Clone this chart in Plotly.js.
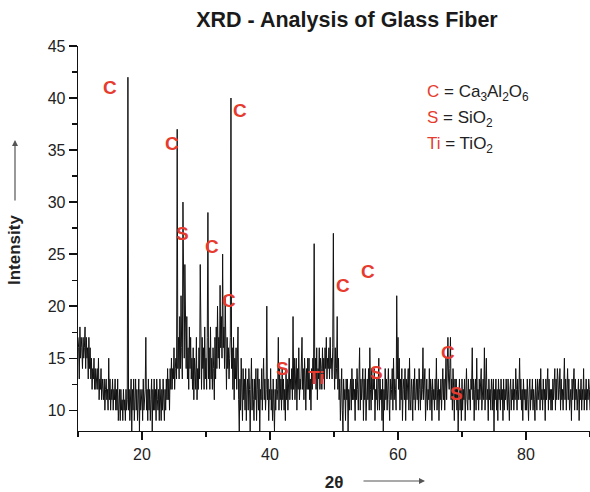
<!DOCTYPE html>
<html>
<head>
<meta charset="utf-8">
<script src="https://cdn.plot.ly/plotly-3.0.1.min.js"></script>
<style>
  html, body { margin: 0; padding: 0; background: #fff; }
  #chart { width: 590px; height: 492px; }
</style>
</head>
<body>
<div id="chart"></div>
<script>
// Scan grid (2θ, degrees)
const twoThetaStart = 10;
const twoThetaStep = 0.1;

const seg10to20 = [17,16,13,18,15,17,16,14,17,15, 16,18,14,17,15,16,13,17,14,16,
                   13,15,12,14,13,15,12,14,12,13, 14,12,15,11,13,12,14,11,13,12,
                   11,13,10,12,13,11,12,10,15,11, 13,10,12,11,13,10,12,11,13,10,
                   12,10,13,9,11,12,9,12,10,11,   9,12,10,11,9,12,10,11,42,10,
                   12,9,11,13,8,12,10,13,9,11,    13,10,12,9,11,13,8,12,10,11];
const seg20to30 = [12,9,13,10,11,12,17,10,12,9,   13,10,12,9,11,13,8,12,10,13,
                   10,12,9,13,11,10,12,9,13,11,   9,12,10,13,11,9,12,10,13,11,
                   14,11,13,10,14,12,15,12,14,13, 16,12,14,15,13,37,14,17,13,19,
                   14,21,16,13,30,21,15,24,17,14, 19,13,16,12,18,14,17,13,15,12,
                   16,11,15,13,12,17,11,14,12,16, 13,24,15,12,17,14,16,12,18,13];
const seg30to40 = [15,12,17,29,13,16,12,18,13,15, 12,16,14,11,17,13,18,14,20,15,
                   17,14,22,16,19,15,25,16,18,14, 21,15,12,17,14,16,13,15,17,40,
                   14,16,12,17,11,15,13,16,12,14, 18,11,8,13,10,15,12,9,14,11,
                   13,10,14,9,12,13,10,14,12,8,   12,15,10,13,11,9,13,11,14,9,
                   12,14,10,13,8,12,11,14,10,13,  15,11,13,10,12,20,11,13,9,12];
const seg40to50 = [11,14,10,12,9,13,11,8,12,10,   13,11,12,17,10,14,11,13,10,14,
                   11,13,10,12,9,14,11,13,10,12,  15,11,13,12,14,11,19,12,15,11,
                   13,15,10,14,12,16,11,13,12,15, 17,12,14,11,15,13,10,14,12,15,
                   12,15,11,13,10,14,12,15,13,26, 13,15,12,16,11,14,13,16,12,15,
                   14,12,16,13,15,12,16,14,17,13, 15,14,16,13,17,14,15,13,16,27];
const seg50to60 = [15,12,16,13,14,19,12,15,11,13, 9,12,14,10,8,13,11,12,9,13,
                   11,13,8,12,10,12,13,10,14,11,  13,11,12,9,13,11,14,12,10,13,
                   16,10,13,11,12,14,9,13,11,14,  9,12,13,11,14,10,16,12,10,14,
                   11,13,12,14,9,12,11,13,10,12,  15,10,13,11,12,9,13,8,12,10,
                   14,11,13,10,12,14,11,9,13,11,  12,14,10,15,11,13,12,10,21,13];
const seg60to70 = [17,12,15,10,13,11,14,9,12,13,  11,14,9,13,11,12,14,10,15,11,
                   10,13,12,9,13,11,14,10,12,13,  11,13,10,14,12,10,13,11,12,16,
                   11,13,14,9,12,13,10,12,11,14,  10,13,12,9,13,11,12,10,13,11,
                   15,10,12,13,9,12,11,13,10,12,  14,11,13,10,12,15,11,13,17,13,
                   12,14,17,11,13,10,14,12,9,13,  11,13,10,12,8,11,13,10,12,9];
const seg70to80 = [13,10,12,11,13,9,12,14,11,10,  13,11,12,10,13,12,16,11,13,9,
                   12,13,10,15,11,12,10,13,11,12, 14,10,12,13,11,16,10,13,15,11,
                   12,9,13,11,12,10,13,12,10,13,  8,12,11,13,10,12,9,13,11,12,
                   10,13,11,12,9,13,10,12,11,13,  12,10,13,11,9,12,13,10,12,11,
                   13,10,12,11,14,12,10,13,11,12, 15,11,13,10,12,9,13,11,12,10];
const seg80to90 = [12,10,13,11,9,12,13,10,12,11,  13,10,12,11,9,13,12,10,13,11,
                   12,13,10,14,11,12,10,13,11,12, 9,13,11,12,14,10,13,11,12,10,
                   12,10,13,11,12,14,10,13,11,14, 13,11,12,14,10,13,11,12,10,13,
                   15,11,13,10,12,14,11,13,10,12, 12,9,13,11,12,14,10,13,11,12,
                   10,12,13,9,12,11,13,10,12,11,  14,10,12,11,13,10,12,11,13,12,
                   10];

const intensity = [].concat(seg10to20, seg20to30, seg30to40, seg40to50,
                            seg50to60, seg60to70, seg70to80, seg80to90);
const twoTheta = intensity.map((_, i) => +(twoThetaStart + i * twoThetaStep).toFixed(2));

// Phase labels placed on the pattern
const phaseText = ['C','C','C','S','C','C','S','Ti','C','C','S','C','S'];
const phaseX    = [15.0,24.7,35.3,26.3,30.9,33.6,41.9,47.3,51.4,55.3,56.6,67.8,69.1];
const phaseY    = [41.0,35.6,38.8,27.0,25.7,20.5,14.0,13.1,22.0,23.3,13.6,15.5,11.6];

// Key lines
const keyLetters = ['C','S','Ti'];
const keyFormulas = ['Ca<sub>3</sub>Al<sub>2</sub>O<sub>6</sub>','SiO<sub>2</sub>','TiO<sub>2</sub>'];

const RED = '#e63b2e';
const FONT = 'Liberation Sans, Arial, Helvetica, sans-serif';

const W = 590, H = 492, L = 78, R = 0, T = 46, B = 61;
const pw = W - L - R, ph = H - T - B;
const px = v => (v - L) / pw;
const py = v => (H - B - v) / ph;

const annotations = [];
phaseText.forEach((t, i) => {
  annotations.push({
    x: phaseX[i], y: phaseY[i], xref: 'x', yref: 'y',
    text: t, showarrow: false, xanchor: 'center', yanchor: 'middle',
    font: {family: FONT, size: 19, color: RED, weight: 'bold'}
  });
});
const keyYs = [93, 119, 145];
keyLetters.forEach((t, i) => {
  annotations.push({
    x: px(425), y: py(keyYs[i]), xref: 'paper', yref: 'paper',
    text: '<span style="color:' + RED + '">' + t + '</span> = ' + keyFormulas[i],
    showarrow: false, xanchor: 'left', yanchor: 'middle', align: 'left',
    font: {family: FONT, size: 17, color: '#222'}
  });
});
// y-axis title with arrow
annotations.push({
  x: px(15), y: py(250), xref: 'paper', yref: 'paper',
  text: '<b>Intensity</b>', textangle: -90, showarrow: false,
  xanchor: 'center', yanchor: 'middle',
  font: {family: FONT, size: 17, color: '#222'}
});
annotations.push({
  x: px(15), y: py(140), xref: 'paper', yref: 'paper',
  ax: 0, ay: 62, text: '', showarrow: true,
  arrowhead: 2, arrowsize: 1, arrowwidth: 1.2, arrowcolor: '#555'
});
// x-axis title arrow
annotations.push({
  x: px(425), y: py(481), xref: 'paper', yref: 'paper',
  ax: -63, ay: 0, text: '', showarrow: true,
  arrowhead: 2, arrowsize: 1, arrowwidth: 1.2, arrowcolor: '#555'
});

const trace = {
  x: twoTheta, y: intensity, type: 'scatter', mode: 'lines',
  line: {color: '#111', width: 1}, hoverinfo: 'skip'
};

const layout = {
  width: W, height: H,
  margin: {l: L, r: R, t: T, b: B},
  paper_bgcolor: '#fff', plot_bgcolor: '#fff',
  showlegend: false,
  font: {family: FONT, color: '#222'},
  title: {
    text: '<b>XRD - Analysis of Glass Fiber</b>',
    x: 347 / W, xanchor: 'center', xref: 'container',
    y: 1 - 19 / H, yanchor: 'middle', yref: 'container',
    font: {family: FONT, size: 21.5, color: '#1a1a1a'}
  },
  xaxis: {
    range: [10, 90], tick0: 0, dtick: 20,
    showline: true, linecolor: '#111', linewidth: 1.3,
    ticks: 'outside', ticklen: 8, tickwidth: 1.3, tickcolor: '#111',
    minor: {tick0: 0, dtick: 10, ticks: 'outside', ticklen: 5, tickwidth: 1.2, tickcolor: '#111'},
    showgrid: false, zeroline: false,
    tickfont: {family: FONT, size: 16, color: '#222'},
    title: {text: '<b>2θ</b>', standoff: 16, font: {family: FONT, size: 17, color: '#222'}}
  },
  yaxis: {
    range: [8, 45], tick0: 0, dtick: 5,
    showline: true, linecolor: '#111', linewidth: 1.3,
    ticks: 'outside', ticklen: 8, tickwidth: 1.3, tickcolor: '#111',
    minor: {tick0: 0, dtick: 2.5, ticks: 'outside', ticklen: 5, tickwidth: 1.2, tickcolor: '#111'},
    showgrid: false, zeroline: false,
    tickfont: {family: FONT, size: 16, color: '#222'}
  },
  annotations: annotations
};

Plotly.newPlot('chart', [trace], layout, {displayModeBar: false, staticPlot: true});
</script>
</body>
</html>
